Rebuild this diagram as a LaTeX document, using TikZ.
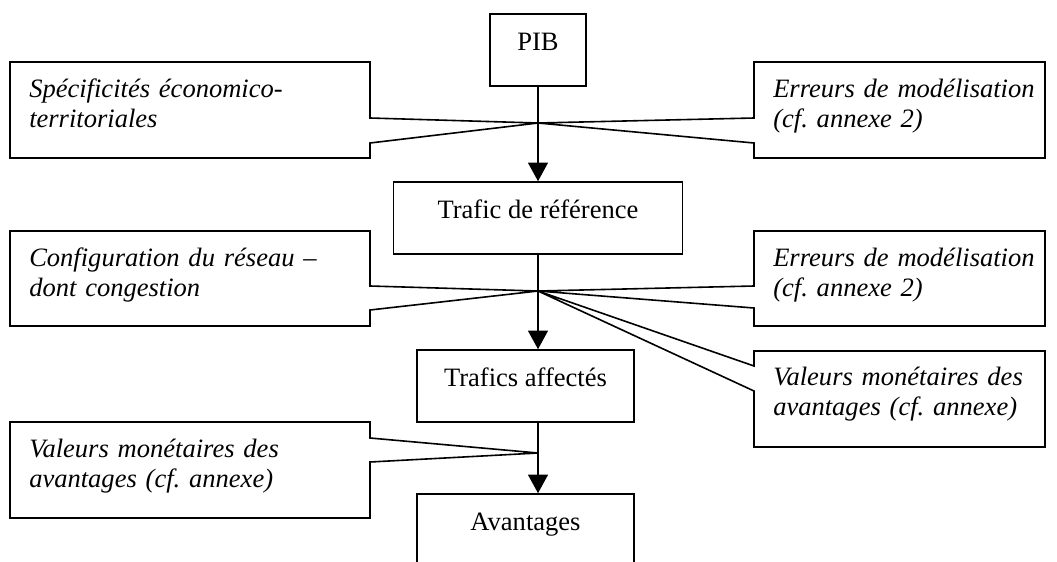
\documentclass[tikz,border=0pt]{standalone}
\usepackage{fontspec}
\setmainfont{Liberation Serif}
\usetikzlibrary{arrows.meta,calc}
\frenchspacing

\begin{document}
\begin{tikzpicture}[x=0.75pt,y=-0.75pt,
  box/.style={draw,line width=1.2pt,inner sep=0pt,minimum height=54pt,text height=27pt,text depth=27pt,font=\fontsize{19.9}{23.2}\selectfont},
  note/.style={anchor=base west,inner sep=0pt,text width=250pt,align=left,font=\fontsize{19.9}{23.2}\selectfont\itshape},
  callout/.style={draw,line width=1.2pt,line join=miter},
  flow/.style={line width=1.2pt,-{Triangle[width=15pt,length=14pt]}}]
\clip (0,0) rectangle (1057,561);
% main chain
\node[box,minimum width=72pt] (pib) at (538,50) {PIB};
\node[box,minimum width=216.75pt] (ref) at (538,218) {Trafic de référence};
\node[box,minimum width=162.75pt] (aff) at (525.5,386) {Trafics affectés};
\node[box,minimum width=162.75pt] (avt) at (525.5,530) {Avantages};
\coordinate (j1) at (538,123);
\coordinate (j2) at (538,291);
\coordinate (j3) at (538,453);
\draw[flow] (pib.south) -- (pib.south |- ref.north);
\draw[flow] (ref.south) -- (ref.south |- aff.north);
\draw[flow] (ref.south |- aff.south) -- (ref.south |- avt.north);
% callouts
\draw[callout] (10,62) -- (370,62) -- (370,118) -- (j1) -- (370,143) -- (370,158) -- (10,158) -- cycle;
\draw[callout] (1045,62) -- (754,62) -- (754,118) -- (j1) -- (754,143) -- (754,158) -- (1045,158) -- cycle;
\draw[callout] (10,231) -- (370,231) -- (370,286) -- (j2) -- (370,310) -- (370,326) -- (10,326) -- cycle;
\draw[callout] (1045,231) -- (754,231) -- (754,286) -- (j2) -- (754,308) -- (754,326) -- (1045,326) -- cycle;
\draw[callout] (1045,351) -- (754,351) -- (754,366) -- (j2) -- (754,391) -- (754,447) -- (1045,447) -- cycle;
\draw[callout] (10,422) -- (370,422) -- (370,438) -- (j3) -- (370,462) -- (370,518) -- (10,518) -- cycle;
\node[note] (spec) at (29,97) {Spécificités économico-\\territoriales};
\node[note] (err1) at (773,97) {Erreurs de modélisation\\(cf. annexe 2)};
\node[note] (conf) at (29,266) {Configuration du réseau –\\dont congestion};
\node[note] (err2) at (773,266) {Erreurs de modélisation\\(cf. annexe 2)};
\node[note] (val1) at (773,385) {Valeurs monétaires des\\avantages (cf. annexe)};
\node[note] (val2) at (29,457) {Valeurs monétaires des\\avantages (cf. annexe)};
\end{tikzpicture}
\end{document}
